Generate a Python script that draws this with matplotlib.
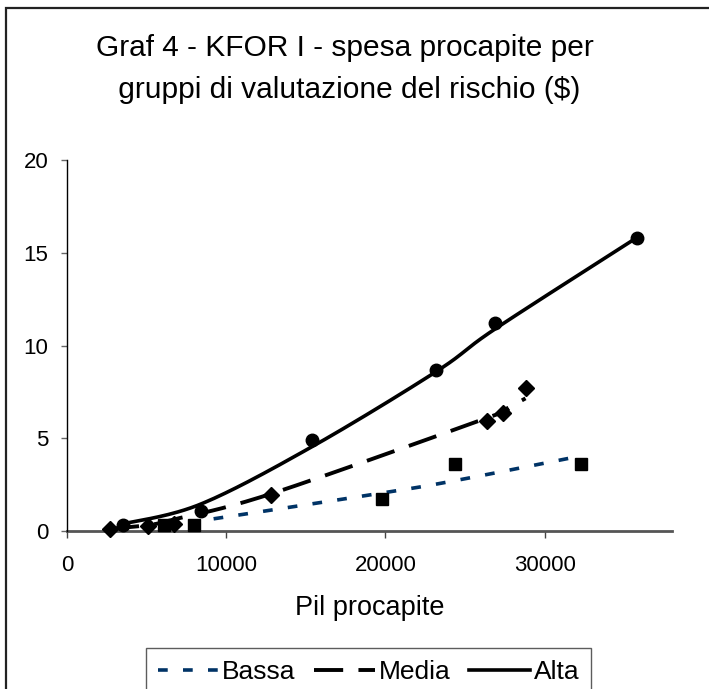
import numpy as np
import matplotlib
matplotlib.use("Agg")
import matplotlib.pyplot as plt
from matplotlib.lines import Line2D
from matplotlib.patches import Rectangle

plt.rcParams["font.family"] = ["Liberation Sans", "DejaVu Sans"]
plt.rcParams["lines.scale_dashes"] = False

# --- data -----------------------------------------------------------------
series_names = ["Bassa", "Media", "Alta"]

# observed points (PIL procapite, spesa procapite $)
bassa_x = [6100, 8000, 19800, 24400, 32300]
bassa_y = [0.3, 0.3, 1.7, 3.6, 3.6]
media_x = [2700, 5100, 6700, 12800, 26400, 27400, 28800]
media_y = [0.1, 0.25, 0.4, 1.95, 5.95, 6.35, 7.7]
alta_x = [3500, 8400, 15400, 23200, 26900, 35800]
alta_y = [0.3, 1.1, 4.9, 8.7, 11.2, 15.8]

# fitted values for each risk group (drawn as smoothed lines)
bassa_fit = [0.28, 0.5, 2.05, 2.72, 4.05]
media_fit = [0.12, 0.32, 0.62, 2.0, 6.1, 6.5, 7.15]
alta_fit = [0.38, 1.45, 4.55, 8.6, 10.9, 15.82]

x_ticks = [0, 10000, 20000, 30000]
y_ticks = [0, 5, 10, 15, 20]

# --- figure ---------------------------------------------------------------
W, H, DPI = 709, 689, 100
fig = plt.figure(figsize=(W / DPI, H / DPI), dpi=DPI)
ax = fig.add_axes([67 / W, 1 - 531 / H, (672 - 67) / W, (531 - 160) / H])
XMAX, YMAX = 38000, 20
ax.set_xlim(0, XMAX)
ax.set_ylim(0, YMAX)


def smooth(xs, ys, n=30):
    """Catmull-Rom smoothing done in screen proportions (like a smoothed chart line)."""
    sx = np.asarray(xs, float) / XMAX * (672 - 67)
    sy = np.asarray(ys, float) / YMAX * (531 - 160)
    P = np.column_stack([sx, sy])
    P = np.vstack([P[0], P, P[-1]])
    out = []
    t = np.linspace(0, 1, n)[:, None]
    for i in range(1, len(P) - 2):
        p0, p1, p2, p3 = P[i - 1], P[i], P[i + 1], P[i + 2]
        c1 = p1 + (p2 - p0) / 6
        c2 = p2 - (p3 - p1) / 6
        seg = ((1 - t) ** 3) * p1 + 3 * ((1 - t) ** 2) * t * c1 + 3 * (1 - t) * t ** 2 * c2 + t ** 3 * p2
        out.append(seg if i == 1 else seg[1:])
    out = np.vstack(out)
    return out[:, 0] / (672 - 67) * XMAX, out[:, 1] / (531 - 160) * YMAX


navy = "#003366"
styles = {
    "Bassa": dict(color=navy, lw=2.6, dashes=(7.0, 11.0)),
    "Media": dict(color="black", lw=2.8, dashes=(21.0, 11.0)),
    "Alta": dict(color="black", lw=2.6),
}

for name, xs, fit in [("Bassa", bassa_x, bassa_fit),
                      ("Media", media_x, media_fit),
                      ("Alta", alta_x, alta_fit)]:
    sx, sy = smooth(xs, fit)
    st = dict(styles[name])
    dashes = st.pop("dashes", None)
    ln, = ax.plot(sx, sy, solid_capstyle="round", dash_capstyle="butt", zorder=3, **st)
    if dashes:
        ln.set_dashes(dashes)

ax.plot(bassa_x, bassa_y, ls="none", marker="s", ms=8.5, color="black", zorder=4, clip_on=False)
ax.plot(media_x, media_y, ls="none", marker="D", ms=8, color="black", zorder=4, clip_on=False)
ax.plot(alta_x, alta_y, ls="none", marker="o", ms=9, color="black", zorder=4, clip_on=False)

# --- axes styling -----------------------------------------------------------
for s in ["top", "right"]:
    ax.spines[s].set_visible(False)
ax.spines["left"].set_color("black")
ax.spines["left"].set_linewidth(1.0)
ax.spines["bottom"].set_color("#555555")
ax.spines["bottom"].set_linewidth(2.0)
ax.spines["bottom"].set_zorder(2)

ax.set_xticks(x_ticks)
ax.set_yticks(y_ticks)
ax.set_xticklabels([str(v) for v in x_ticks])
ax.set_yticklabels([str(v) for v in y_ticks])
ax.tick_params(axis="y", direction="out", length=4.5, width=1, color="#666666",
               labelsize=16, pad=9)
ax.tick_params(axis="x", direction="out", length=5, width=1, color="#444444",
               labelsize=16, pad=12)

ax.set_xlabel("Pil procapite", fontsize=19.5, labelpad=14)

fig.text(0.487, 1 - 48 / H, "Graf 4 - KFOR I - spesa procapite per",
         ha="center", va="center", fontsize=21.5)
fig.text(0.487, 1 - 90 / H, " gruppi di valutazione del rischio ($)",
         ha="center", va="center", fontsize=21.5)

# legend with line samples only
handles = []
for name in series_names:
    st = dict(styles[name])
    dashes = st.pop("dashes", None)
    h = Line2D([], [], dash_capstyle="butt", **st)
    if dashes:
        h.set_dashes(dashes)
    handles.append(h)
leg = fig.legend(handles, series_names, loc="upper center",
                 bbox_to_anchor=(368.5 / W, 1 - 648 / H), ncol=3,
                 fontsize=19, frameon=True, fancybox=False,
                 handlelength=2.3, handletextpad=0.15, columnspacing=0.7,
                 borderpad=0.45, borderaxespad=0)
leg.get_frame().set_edgecolor("#333333")
leg.get_frame().set_linewidth(1.0)

# outer chart border
fig.patches.append(Rectangle((6 / W, -0.1), 1.2, 1 - 8 / H + 0.1,
                             transform=fig.transFigure, fill=False,
                             edgecolor="#222222", linewidth=1.6))

fig.savefig("out.png", dpi=DPI)
